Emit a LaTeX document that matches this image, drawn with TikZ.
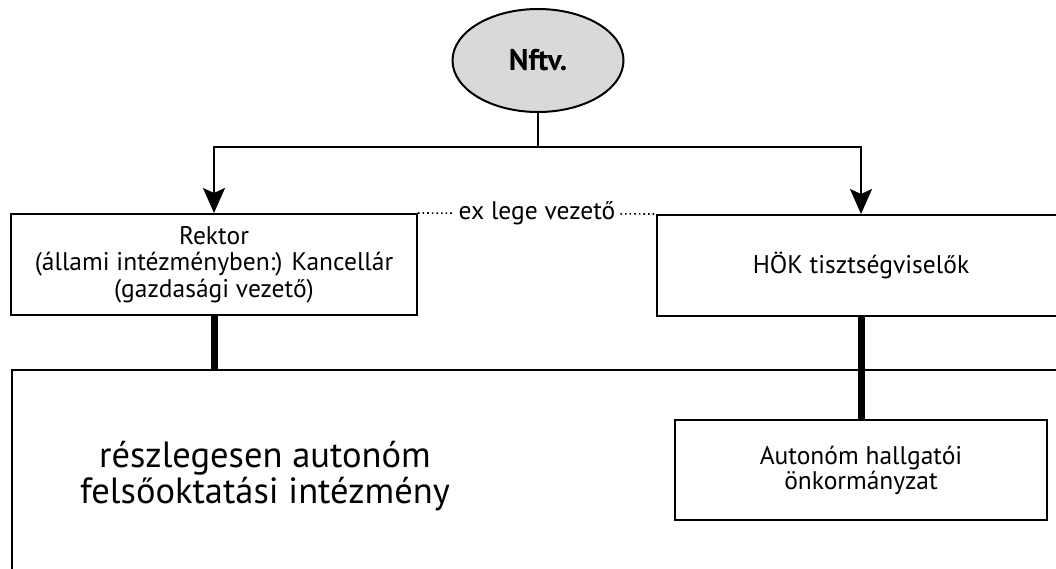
\documentclass[tikz,border=0pt]{standalone}
\usepackage{fontspec}
\setmainfont{PT Sans}
\usetikzlibrary{arrows.meta,shapes.geometric}
\definecolor{lawgray}{HTML}{D9D9D9}
\definecolor{figink}{HTML}{000000}

\begin{document}
\begin{tikzpicture}[x=1pt,y=-1pt,line width=2pt,
  every node/.style={font=\fontsize{25.5}{26.5}\selectfont,inner sep=0pt},
  law/.style={ellipse,draw=figink,fill=lawgray,minimum width=171pt,minimum height=103pt,font=\fontsize{30}{32}\selectfont\bfseries},
  orgbox/.style={draw=figink,rectangle,align=center},
  feeds/.style={-{Stealth[length=25pt,width=22pt,inset=5pt]},figink},
  exlege/.style={figink,line width=1.6pt,dash pattern=on 1.6pt off 3pt},
  holds/.style={figink,line width=7pt}]
\useasboundingbox (0,0) rectangle (1056,568);
\clip (0,0) rectangle (1056,568);
\node[law] (nftv) at (538,60.5) {Nftv.};
\node[orgbox,minimum width=406pt,minimum height=101pt] (rektor) at (214,264.5)
  {Rektor\\(állami intézményben:) Kancellár\\(gazdasági vezető)};
\node[orgbox,minimum width=408pt,minimum height=101pt] (hok) at (861,265.5) {HÖK tisztségviselők};
\node[orgbox,minimum width=1060pt,minimum height=230pt,anchor=north west] (intezmeny) at (11,369) {};
\node[align=center,font=\fontsize{36.5}{36}\selectfont] (intezmenytext) at (265,476)
  {részlegesen autonóm\\felsőoktatási intézmény};
\node[orgbox,font=\fontsize{25.5}{25}\selectfont,minimum width=372pt,minimum height=100pt] (onk) at (861,470)
  {Autonóm hallgatói\\önkormányzat};
% Nftv. rules both leaders
\draw[feeds] (nftv.south) -- ++(0,34) -| (rektor.north);
\draw[feeds] (nftv.south) -- ++(0,34) -| (hok.north);
\draw[exlege] (rektor.north east) -- node[fill=white,inner xsep=5pt,inner ysep=2pt]{ex lege vezető} (hok.north west);
\draw[holds] (rektor.south) -- (rektor.south |- intezmeny.north);
\draw[holds] (hok.south) -- (onk.north);
\end{tikzpicture}
\end{document}
